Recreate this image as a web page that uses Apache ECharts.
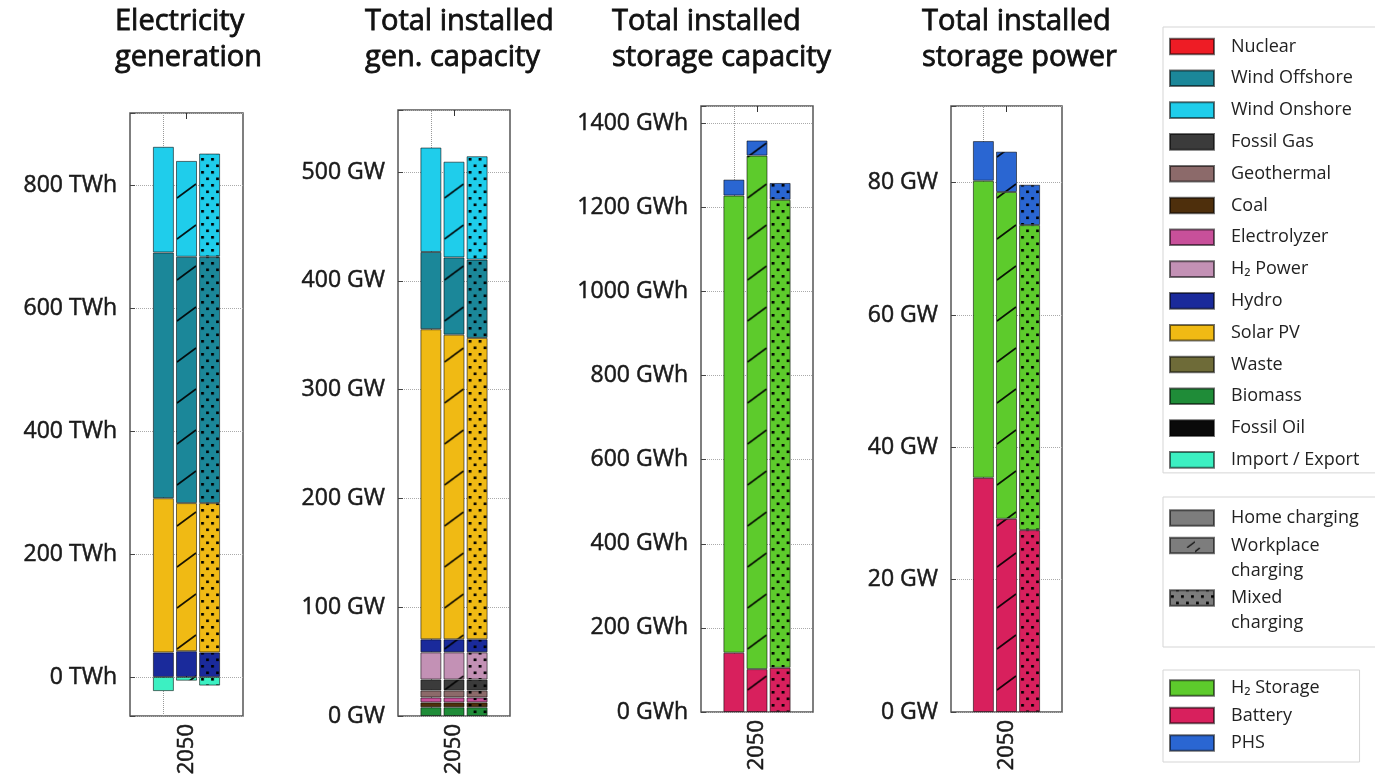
<!DOCTYPE html>
<html>
<head>
<meta charset="utf-8">
<script src="https://cdn.jsdelivr.net/npm/echarts@6/dist/echarts.min.js"></script>
<style>
  html, body { margin: 0; padding: 0; background: #fff; }
  #chart { width: 1375px; height: 777px; }
</style>
</head>
<body>
<div id="chart"></div>
<script>
// ---- data ----
const years = ['2050'];

// electricity generation, TWh, stacked bottom -> top
const genTech = ['Import / Export', 'Hydro', 'Solar PV', 'Wind Offshore', 'Wind Onshore'];
const genHome = [-23, 40, 251, 400, 172];
const genWork = [-6, 42, 241, 401, 156];
const genMixed = [-14, 40, 243, 401, 168];

// installed generation capacity, GW
const capTech = ['Biomass', 'Coal', 'Electrolyzer', 'Geothermal', 'Fossil Gas', 'H₂ Power', 'Hydro', 'Solar PV', 'Wind Offshore', 'Wind Onshore'];
const capHome = [8, 4.5, 4.5, 6.5, 10, 25, 12, 285, 71, 96];
const capWork = [8, 4.5, 4.5, 6.5, 10, 25, 12, 280, 71, 88];
const capMixed = [8, 4.5, 4.5, 6.5, 10, 25, 12, 277, 72, 95];

// storage capacity GWh / storage power GW
const stoTech = ['Battery', 'H₂ Storage', 'PHS'];
const stoCapHome = [141, 1087, 38];
const stoCapWork = [102, 1221, 36];
const stoCapMixed = [105, 1113, 40];
const stoPowHome = [35.4, 44.9, 6];
const stoPowWork = [29.2, 49.4, 6.1];
const stoPowMixed = [27.5, 46.1, 6.1];

const genLegend = ['Nuclear', 'Wind Offshore', 'Wind Onshore', 'Fossil Gas', 'Geothermal', 'Coal', 'Electrolyzer',
  'H₂ Power', 'Hydro', 'Solar PV', 'Waste', 'Biomass', 'Fossil Oil', 'Import / Export'];
const chargeLegend = ['Home charging', 'Workplace charging', 'Mixed charging'];
const storeLegend = ['H₂ Storage', 'Battery', 'PHS'];

// ---- styles ----
const colors = {
  'Nuclear': '#ee1c25',
  'Wind Offshore': '#1b8799',
  'Wind Onshore': '#1fcdeb',
  'Fossil Gas': '#3b3b3b',
  'Geothermal': '#8c6a6a',
  'Coal': '#4e2f0c',
  'Electrolyzer': '#c8509a',
  'H₂ Power': '#c391b5',
  'Hydro': '#1a2a9b',
  'Solar PV': '#f0ba14',
  'Waste': '#6e6b38',
  'Biomass': '#1f8c38',
  'Fossil Oil': '#0a0a0a',
  'Import / Export': '#3cf0c2',
  'H₂ Storage': '#5dcb2c',
  'Battery': '#d8205d',
  'PHS': '#2a66d2',
  'charging': '#7d7d7d',
};

const grids = [
  { left: 130, top: 113, width: 113, height: 603 },
  { left: 398, top: 110, width: 112, height: 606 },
  { left: 701, top: 106, width: 112, height: 606 },
  { left: 951, top: 106, width: 111, height: 606 },
];
const axisCfg = [
  { min: -63.5, max: 918, step: 200, unit: 'TWh' },
  { min: 0, max: 557, step: 100, unit: 'GW' },
  { min: 0, max: 1441, step: 200, unit: 'GWh' },
  { min: 0, max: 91.6, step: 20, unit: 'GW' },
];
const titles = [
  { text: 'Electricity\ngeneration', left: 115 },
  { text: 'Total installed\ngen. capacity', left: 365 },
  { text: 'Total installed\nstorage capacity', left: 612 },
  { text: 'Total installed\nstorage power', left: 922 },
];

const BW = 21; // bar width
const GAP = 0.1; // bar gap ratio
const BORDER = 'rgba(0,0,0,0.55)';

// left x of bar s (0 home, 1 workplace, 2 mixed) in panel p
function barLeft(p, s) {
  const c = grids[p].left + grids[p].width / 2;
  return c - BW * 1.5 - BW * GAP + s * (BW * (1 + GAP));
}

// diagonal hatch (workplace charging)
function hatchFill(color, x, y) {
  const cv = document.createElement('canvas');
  cv.width = BW;
  cv.height = 41;
  const ctx = cv.getContext('2d');
  ctx.fillStyle = color;
  ctx.fillRect(0, 0, cv.width, cv.height);
  ctx.strokeStyle = 'rgba(0,0,0,0.9)';
  ctx.lineWidth = 1.6;
  ctx.beginPath();
  ctx.moveTo(1, 34);
  ctx.lineTo(BW - 1, 20);
  ctx.stroke();
  return { image: cv, repeat: 'repeat', x: x, y: y || 0 };
}

// staggered dot pattern (mixed charging)
function dotFill(color, x, y) {
  const cv = document.createElement('canvas');
  cv.width = 10;
  cv.height = 13;
  const ctx = cv.getContext('2d');
  ctx.fillStyle = color;
  ctx.fillRect(0, 0, cv.width, cv.height);
  ctx.fillStyle = '#000';
  ctx.fillRect(2, 2, 2.8, 2.6);
  ctx.fillRect(7, 8.5, 2.8, 2.6);
  return { image: cv, repeat: 'repeat', x: x, y: y || 0 };
}

function fillFor(color, s, p) {
  if (s === 1) return hatchFill(color, barLeft(p, 1));
  if (s === 2) return dotFill(color, barLeft(p, 2));
  return color;
}

const series = [];
function addPanel(p, techs, stacks) {
  stacks.forEach((vals, s) => {
    techs.forEach((t, k) => {
      series.push({
        name: t,
        type: 'bar',
        xAxisIndex: p,
        yAxisIndex: p,
        stack: 'p' + p + 's' + s,
        barWidth: BW,
        barGap: (GAP * 100) + '%',
        data: [vals[k]],
        itemStyle: { color: fillFor(colors[t], s, p), borderColor: BORDER, borderWidth: 1 },
      });
    });
  });
}
addPanel(0, genTech, [genHome, genWork, genMixed]);
addPanel(1, capTech, [capHome, capWork, capMixed]);
addPanel(2, stoTech, [stoCapHome, stoCapWork, stoCapMixed]);
addPanel(3, stoTech, [stoPowHome, stoPowWork, stoPowMixed]);

// legend-only entries (no bars)
function legendOnly(name, color) {
  series.push({
    name: name,
    type: 'bar',
    xAxisIndex: 0,
    yAxisIndex: 0,
    stack: 'p0s0',
    data: [],
    itemStyle: { color: color, borderColor: BORDER, borderWidth: 1 },
  });
}
genLegend.forEach((n) => {
  if (!series.some((s) => s.name === n)) legendOnly(n, colors[n]);
});

// charging swatches
const wpCv = document.createElement('canvas');
wpCv.width = 44;
wpCv.height = 16;
(function () {
  const ctx = wpCv.getContext('2d');
  ctx.fillStyle = colors.charging;
  ctx.fillRect(0, 0, 44, 16);
  ctx.strokeStyle = '#111';
  ctx.lineWidth = 1.4;
  ctx.beginPath();
  ctx.moveTo(36, 16);
  ctx.lineTo(44, 10);
  ctx.moveTo(0, 4);
  ctx.lineTo(5, 0);
  ctx.stroke();
})();
legendOnly('Home charging', colors.charging);
legendOnly('Workplace charging', { image: wpCv, repeat: 'repeat', x: 1169, y: 538 });
legendOnly('Mixed charging', dotFill(colors.charging, 1169, 588));

// vertical dotted line through the category
grids.forEach((g, p) => {
  const first = series.find((s) => s.xAxisIndex === p);
  first.markLine = {
    silent: true,
    symbol: 'none',
    z: 1,
    label: { show: false },
    lineStyle: { color: '#999', type: 'dotted', width: 1 },
    data: [{ xAxis: years[0] }],
  };
});

const legendText = { fontSize: 18, color: '#222', lineHeight: 20, padding: [0, 0, 0, 12] };
const legendBase = {
  orient: 'vertical',
  left: 1163,
  icon: 'rect',
  itemWidth: 44,
  itemHeight: 15.6,
  selectedMode: false,
  borderColor: '#d5d5d5',
  borderWidth: 1,
  backgroundColor: '#fff',
};

// slightly heavier strokes, the original uses a bolder sans
const heavy = { textBorderColor: '#1a1a1a', textBorderWidth: 0.5 };

const bottomAxes = grids.map((g, i) => ({
  gridIndex: i,
  type: 'category',
  data: years,
  axisLine: { show: false },
  axisTick: { show: true, inside: true, alignWithLabel: true, length: 6, lineStyle: { color: '#333' } },
  splitLine: { show: false },
  axisLabel: Object.assign({ rotate: 90, fontSize: 22, color: '#1a1a1a', margin: 8 }, heavy),
}));
// top axes: only the small centre tick
const topAxes = grids.map((g, i) => ({
  gridIndex: i,
  type: 'category',
  position: 'top',
  data: years,
  axisLine: { show: false },
  axisTick: { show: true, inside: true, alignWithLabel: true, length: 6, lineStyle: { color: '#333' } },
  splitLine: { show: false },
  axisLabel: { show: false },
}));

const option = {
  animation: false,
  backgroundColor: '#fff',
  textStyle: { fontFamily: 'Open Sans' },
  title: titles.map((t) => ({
    text: t.text,
    left: t.left,
    top: 4,
    padding: 0,
    textStyle: {
      fontSize: 29, fontWeight: 'normal', color: '#111', lineHeight: 36, fontFamily: 'Open Sans',
      textBorderColor: '#111', textBorderWidth: 0.8,
    },
  })),
  legend: [
    Object.assign({}, legendBase, {
      data: genLegend,
      top: 27,
      itemGap: 11.8,
      padding: [9.5, 40, 3, 6],
      textStyle: legendText,
    }),
    Object.assign({}, legendBase, {
      data: chargeLegend,
      top: 497,
      itemGap: -22.5,
      padding: [8.5, 40, 11.5, 6],
      formatter: (name) => (name === 'Home charging' ? name : '\n' + name.replace(' ', '\n')),
      textStyle: Object.assign({}, legendText, { lineHeight: 25 }),
    }),
    Object.assign({}, legendBase, {
      data: storeLegend,
      top: 670,
      itemGap: 7.5,
      padding: [8, 40, 9, 6],
      textStyle: legendText,
    }),
  ],
  grid: grids.map((g) => Object.assign({
    show: true,
    borderColor: '#555',
    borderWidth: 1.5,
    backgroundColor: '#fff',
    containLabel: false,
    outerBoundsMode: 'none',
  }, g)),
  xAxis: bottomAxes.concat(topAxes),
  yAxis: axisCfg.map((a, i) => ({
    gridIndex: i,
    type: 'value',
    min: a.min,
    max: a.max,
    minInterval: a.step,
    maxInterval: a.step,
    splitNumber: 5,
    axisLine: { show: false },
    axisTick: { show: true, inside: true, length: 5, lineStyle: { color: '#444' } },
    splitLine: { show: true, lineStyle: { color: '#aaa', type: 'dotted' } },
    axisLabel: Object.assign({
      fontSize: 23,
      color: '#1a1a1a',
      margin: 13,
      formatter: (v) => (Math.abs(v % a.step) < 1e-6 ? v + ' ' + a.unit : ''),
    }, heavy),
  })),
  series: series,
};

const myChart = echarts.init(document.getElementById('chart'));
myChart.setOption(option);
</script>
</body>
</html>
